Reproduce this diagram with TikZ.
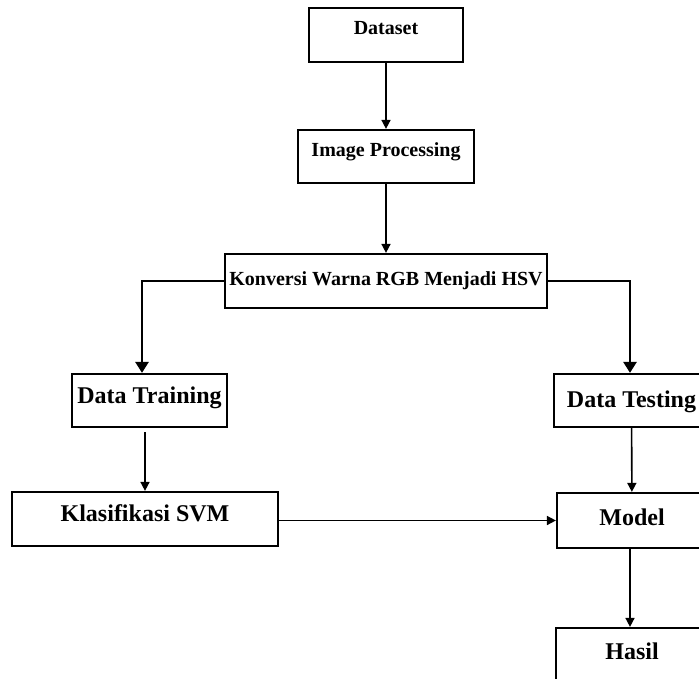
\documentclass[tikz,border=0pt]{standalone}
\usepackage{fontspec}
\setmainfont{Liberation Serif}
\usetikzlibrary{arrows.meta}

\begin{document}
\begin{tikzpicture}[
  x=1pt, y=-1pt,
  box/.style={draw, line width=2.2pt, inner sep=0pt, text height=17pt, text depth=10pt,
    font=\bfseries\fontsize{24}{26}\selectfont},
  topbox/.style={box, text height=14pt, text depth=14pt, font=\bfseries\fontsize{20}{22}\selectfont},
  bigarrow/.style={line width=2.6pt, -{Triangle[width=13pt,length=11pt]}},
  smallarrow/.style={line width=1.6pt, -{Triangle[width=9pt,length=9pt]}}
]
  \useasboundingbox (0,0) rectangle (699,679);
  \clip (0,0) rectangle (699,679);

  % Tahap awal
  \node[topbox, minimum width=154pt, minimum height=54pt] (dataset) at (386,35) {Dataset};
  \node[topbox, minimum width=176pt, minimum height=53pt] (improc) at (386,156.5) {Image Processing};
  \node[topbox, minimum width=322pt, minimum height=54pt, text depth=6pt] (konversi) at (386,281) {Konversi Warna RGB Menjadi HSV};

  % Cabang training dan testing
  \node[box, minimum width=155pt, minimum height=53pt, text depth=12pt] (training) at (149.5,400.5) {Data Training};
  \node[box, minimum width=155pt, minimum height=53pt, text depth=3pt] (testing) at (631.5,400.5) {Data Testing};
  \node[box, minimum width=266pt, minimum height=54pt, text depth=13pt] (svm) at (145,519) {Klasifikasi SVM};
  \node[box, minimum width=150pt, minimum height=55pt, text depth=8pt] (model) at (632,520.5) {Model};
  \node[box, minimum width=152pt, minimum height=54pt, text depth=9pt] (hasil) at (632,655) {Hasil};

  \draw[smallarrow] (dataset) -- (improc);
  \draw[smallarrow] (improc) -- (konversi);
  \draw[bigarrow] (konversi.west) -| ([xshift=-7.5pt]training.north);
  \draw[bigarrow] (konversi.east) -| ([xshift=-1.5pt]testing.north);
  \draw[smallarrow] ([yshift=-4pt]training.south -| svm.north) -- (svm.north);
  \draw[smallarrow] (testing) -- (model);
  \draw[smallarrow] ([yshift=-1.5pt]svm.east) -- ([yshift=-1.5pt]svm.east -| model.west);
  \draw[smallarrow] ([xshift=-2pt]model.south) -- ([xshift=-2pt]hasil.north);
\end{tikzpicture}
\end{document}
